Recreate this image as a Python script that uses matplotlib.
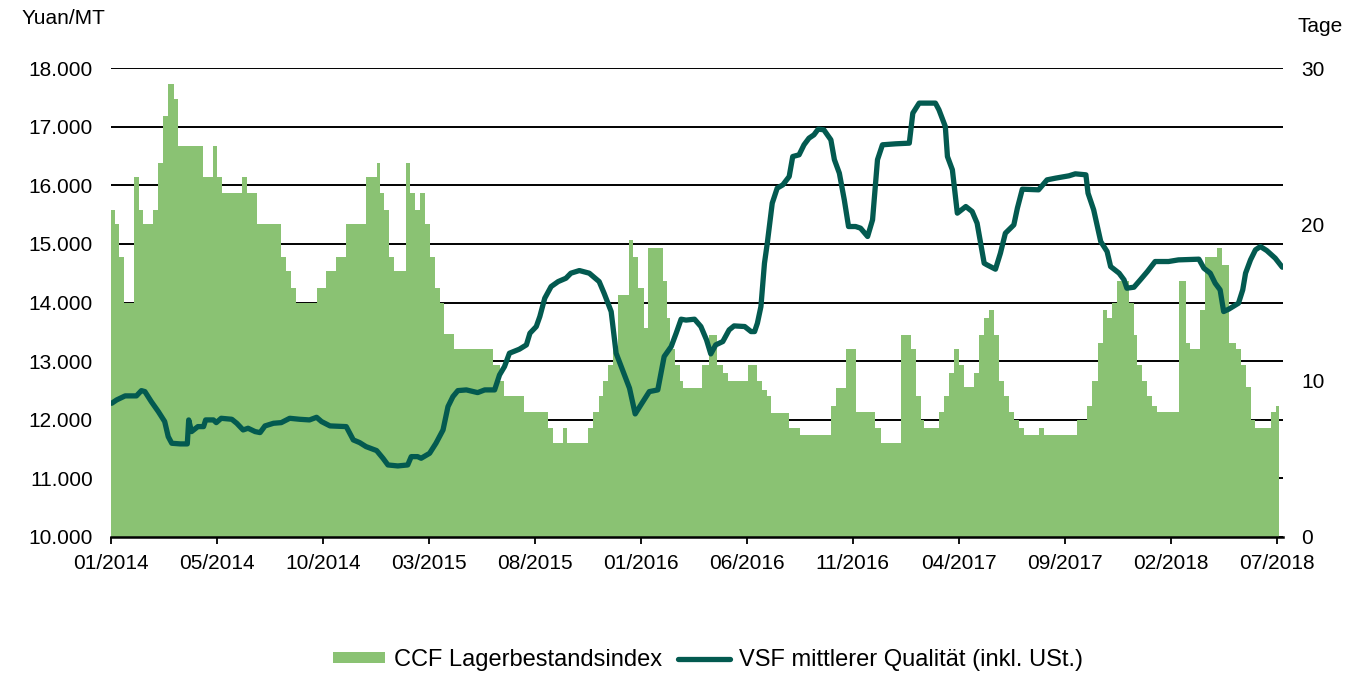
import matplotlib
matplotlib.use("Agg")
import matplotlib.pyplot as plt
import numpy as np
import pandas as pd
from matplotlib.lines import Line2D
from matplotlib.patches import Patch
from matplotlib.ticker import FuncFormatter

plt.rcParams["font.family"] = ["Liberation Sans", "DejaVu Sans"]

# ---------------------------------------------------------------------------
# Data (x = days since 2014-01-01)
# ---------------------------------------------------------------------------
start_date = pd.Timestamp("2014-01-01")

# CCF inventory index, in days (right axis); value holds until the next change
ccf_day = [
    0, 6, 12, 18, 32, 39, 45, 59, 66, 74, 81, 89, 95, 130, 145, 150, 157,
    186, 192, 206, 241, 248, 255, 262, 291, 305, 319, 333, 361, 376, 381,
    387, 394, 401, 417, 423, 430, 437, 444, 451, 458, 466, 472, 486, 541,
    550, 557, 585, 618, 625, 640, 645, 675, 682, 691, 696, 703, 710, 717,
    733, 739, 746, 754, 760, 781, 787, 791, 799, 805, 809, 836, 847, 858,
    866, 873, 901, 915, 922, 929, 934, 960, 976, 1019, 1026, 1040, 1054,
    1082, 1090, 1118, 1132, 1139, 1146, 1151, 1172, 1179, 1186, 1193, 1200,
    1207, 1221, 1228, 1236, 1243, 1250, 1257, 1264, 1271, 1278, 1285, 1292,
    1313, 1321, 1368, 1382, 1389, 1397, 1404, 1410, 1417, 1424, 1441, 1448,
    1452, 1460, 1467, 1474, 1481, 1512, 1521, 1528, 1542, 1549, 1566, 1573,
    1583, 1592, 1599, 1606, 1613, 1620, 1642, 1649, 1653,
]
ccf_val = [
    20.9, 20.0, 17.9, 15.0, 23.0, 20.9, 20.0, 20.9, 23.9, 26.9, 29.0, 28.0,
    25.0, 23.0, 25.0, 23.0, 22.0, 23.0, 22.0, 20.0, 17.9, 17.0, 15.9, 15.0,
    15.9, 17.0, 17.9, 20.0, 23.0, 23.9, 22.0, 20.9, 17.9, 17.0, 23.9, 22.0,
    20.9, 22.0, 20.0, 17.9, 15.9, 15.0, 13.0, 12.0, 11.0, 10.0, 9.0, 8.0,
    7.0, 6.0, 7.0, 6.0, 7.0, 8.0, 9.0, 10.0, 11.0, 12.0, 15.5, 19.0, 17.9,
    15.9, 13.4, 18.5, 16.4, 14.0, 12.0, 11.0, 10.0, 9.5, 11.0, 12.9, 11.0,
    10.5, 10.0, 11.0, 10.0, 9.4, 9.0, 7.9, 7.0, 6.5, 8.4, 9.5, 12.0, 8.0,
    7.0, 6.0, 12.9, 12.0, 9.0, 7.5, 7.0, 8.0, 9.0, 10.5, 12.0, 11.0, 9.6,
    10.5, 12.9, 14.0, 14.5, 12.9, 10.0, 9.0, 8.0, 7.5, 7.0, 6.5, 7.0, 6.5,
    7.5, 8.4, 10.0, 12.4, 14.5, 14.0, 15.0, 16.4, 15.0, 12.9, 11.0, 10.0,
    9.0, 8.4, 8.0, 16.4, 12.4, 12.0, 14.5, 17.9, 18.5, 17.4, 12.4, 12.0,
    11.0, 9.6, 7.5, 7.0, 8.0, 8.4, 8.4,
]

# VSF price, Yuan/MT (left axis)
vsf_day = [
    1, 8, 20, 36, 43, 48, 57, 67, 76, 81, 86, 98, 108, 110, 114, 123, 131,
    134, 145, 149, 156, 171, 178, 187, 194, 204, 211, 218, 230, 241, 253,
    267, 281, 291, 298, 310, 333, 343, 352, 361, 376, 385, 392, 406, 420,
    425, 434, 439, 451, 460, 470, 477, 484, 491, 503, 519, 529, 543, 550,
    557, 564, 578, 588, 593, 602, 607, 614, 623, 633, 644, 651, 663, 677,
    691, 698, 708, 715, 724, 734, 742, 750, 762, 774, 783, 793, 800, 807,
    814, 826, 835, 843, 849, 856, 866, 875, 882, 897, 906, 911, 915, 920,
    925, 929, 936, 943, 951, 960, 965, 974, 981, 988, 995, 1001, 1009,
    1019, 1024, 1031, 1038, 1044, 1054, 1061, 1071, 1078, 1085, 1092, 1111,
    1130, 1135, 1144, 1167, 1172, 1181, 1184, 1191, 1198, 1210, 1219, 1226,
    1236, 1240, 1252, 1259, 1266, 1278, 1283, 1290, 1313, 1325, 1337, 1356,
    1365, 1380, 1383, 1391, 1401, 1410, 1415, 1427, 1434, 1438, 1448, 1457,
    1467, 1478, 1497, 1511, 1540, 1547, 1556, 1563, 1570, 1575, 1582, 1596,
    1602, 1606, 1613, 1620, 1627, 1636, 1648, 1658,
]
vsf_price = [
    12281, 12338, 12407, 12407, 12497, 12480, 12310, 12139, 11969, 11712,
    11599, 11588, 11588, 11997, 11798, 11883, 11883, 11997, 11997, 11951,
    12025, 12008, 11940, 11826, 11855, 11798, 11781, 11895, 11940, 11951,
    12025, 12008, 11997, 12042, 11969, 11895, 11883, 11656, 11610, 11542,
    11474, 11343, 11229, 11212, 11229, 11371, 11371, 11343, 11428, 11599,
    11826, 12224, 12395, 12497, 12509, 12463, 12509, 12509, 12765, 12907,
    13135, 13203, 13277, 13476, 13590, 13760, 14073, 14272, 14357, 14414,
    14500, 14545, 14500, 14357, 14158, 13846, 13135, 12850, 12537, 12099,
    12253, 12480, 12509, 13078, 13249, 13476, 13715, 13700, 13715, 13590,
    13362, 13123, 13277, 13334, 13533, 13601, 13590, 13504, 13504, 13647,
    13931, 14670, 15012, 15694, 15950, 16007, 16149, 16490, 16519, 16690,
    16803, 16860, 16957, 16946, 16775, 16436, 16206, 15751, 15296, 15296,
    15268, 15126, 15410, 16436, 16690, 16707, 16718, 17230, 17401, 17401,
    17287, 17002, 16490, 16263, 15524, 15637, 15552, 15353, 14670, 14642,
    14568, 14841, 15182, 15324, 15609, 15933, 15922, 16092, 16121, 16161,
    16195, 16178, 15865, 15581, 15040, 14869, 14613, 14500, 14386, 14244,
    14261, 14386, 14528, 14699, 14699, 14727, 14739, 14585, 14500, 14329,
    14215, 13846, 13885, 13988, 14215, 14500, 14727, 14898, 14955, 14886,
    14756, 14602,
]

tick_step_days = 150
n_ticks = 12

# ---------------------------------------------------------------------------
# Axis scales
# ---------------------------------------------------------------------------
y_lo, y_hi = 10000, 18000
d_lo, d_hi = 0, 30


def days_to_yuan(d):
    return y_lo + (np.asarray(d, dtype=float) - d_lo) * (y_hi - y_lo) / (d_hi - d_lo)


def yuan_to_days(y):
    return d_lo + (np.asarray(y, dtype=float) - y_lo) * (d_hi - d_lo) / (y_hi - y_lo)


GREEN = "#8AC273"
TEAL = "#035A50"

fig = plt.figure(figsize=(13.71, 6.73), dpi=100)
ax = fig.add_axes([111 / 1371, 1 - 537 / 673, 1172 / 1371, 469 / 673])

ax.fill_between(ccf_day, y_lo, days_to_yuan(ccf_val), step="post",
                color=GREEN, lw=0, zorder=2)
ax.plot(vsf_day, vsf_price, color=TEAL, lw=3.8, solid_capstyle="round",
        solid_joinstyle="round", zorder=3)

ax.set_xlim(0, 1659)
ax.set_ylim(y_lo, y_hi)

# horizontal gridlines behind the area
ax.set_yticks(np.arange(y_lo, y_hi + 1, 1000))
ax.yaxis.set_major_formatter(FuncFormatter(lambda v, _: f"{v:,.0f}".replace(",", ".")))
ax.grid(axis="y", color="black", lw=1.4)
ax.set_axisbelow(True)
ax.tick_params(axis="y", length=0, pad=13, labelsize=15)

ticks = np.arange(n_ticks) * tick_step_days
ax.set_xticks(ticks)
ax.set_xticklabels([(start_date + pd.Timedelta(days=int(t))).strftime("%m/%Y") for t in ticks])
ax.tick_params(axis="x", length=5, width=1.3, direction="out", pad=7, labelsize=15)

for s in ("left", "right", "top"):
    ax.spines[s].set_visible(False)
ax.spines["bottom"].set_linewidth(1.8)
ax.spines["bottom"].set_zorder(4)

sec = ax.secondary_yaxis("right", functions=(yuan_to_days, days_to_yuan))
sec.set_yticks([0, 10, 20, 30])
sec.tick_params(length=0, pad=13, labelsize=15)
sec.spines["right"].set_visible(False)

fig.text(22 / 1371, 1 - 19 / 673, "Yuan/MT", fontsize=15, ha="left", va="center")
fig.text(1297 / 1371, 1 - 27 / 673, "Tage", fontsize=15, ha="left", va="center")

handles = [
    Patch(facecolor=GREEN, edgecolor="none", label="CCF Lagerbestandsindex"),
    Line2D([], [], color=TEAL, lw=3.8, solid_capstyle="round",
           label="VSF mittlerer Qualität (inkl. USt.)"),
]
fig.legend(handles=handles, loc="center", bbox_to_anchor=(708 / 1371, 1 - 660 / 673),
           ncol=2, frameon=False, fontsize=17, handlelength=2.2,
           handleheight=0.35, handletextpad=0.35, columnspacing=0.7)

fig.savefig("out.png", dpi=100)
plt.close(fig)
